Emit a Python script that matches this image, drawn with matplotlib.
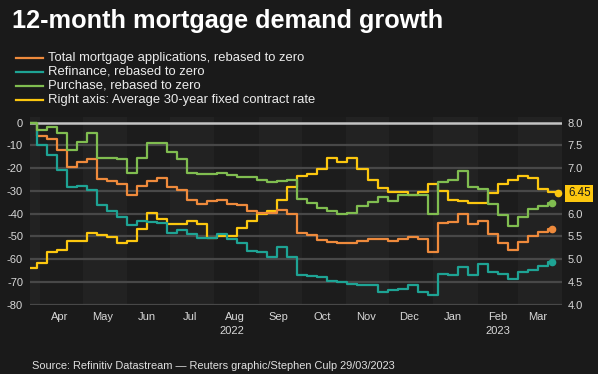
import matplotlib
matplotlib.use("Agg")
import matplotlib.pyplot as plt
from matplotlib.lines import Line2D
from matplotlib.transforms import blended_transform_factory
import pandas as pd

plt.rcParams['font.family'] = ['Liberation Sans', 'DejaVu Sans']

# weekly MBA survey values, rebased to zero at the start of the window
start = pd.Timestamp("2022-03-25")
weds = list(pd.date_range("2022-03-30", periods=52, freq="7D"))
end_mba = pd.Timestamp("2023-03-25")
end_rate = pd.Timestamp("2023-03-29")

total = [0, -6, -7, -12, -19.5, -17.3, -15.8, -24.6, -25.5, -27, -32, -27.8, -25.5,
         -24.2, -28.3, -29.7, -34.1, -35.6, -34.6, -34.1, -35.6, -36.3, -38.8, -39.5,
         -39.5, -38.2, -40, -48.5, -49.5, -51.5, -52.5, -52.8, -52.8, -52, -51, -51,
         -52, -51, -50.3, -51.3, -56.8, -44, -43.6, -40, -44.6, -43.4, -49, -52.8,
         -56, -52.4, -49.8, -48.2, -46.8]
refinance = [0, -10, -14.3, -20.9, -28.3, -28, -29.7, -36, -39, -41.4, -45.1, -43.3,
             -43.5, -43.9, -48.3, -47.3, -49, -50.5, -50.5, -49, -51.3, -52.7, -56.5,
             -56.8, -59, -54.6, -59.2, -67, -67.2, -68, -69.5, -70, -70.7, -71.4, -71.4,
             -74.5, -73.6, -72.9, -71.4, -74.4, -75.8, -66.3, -66.8, -63.4, -66.8, -62,
             -65.8, -66.3, -68.5, -65.6, -64.6, -63, -61.2]
purchase = [0, -3.2, -1.8, -4.7, -12, -8.3, -4.4, -15.6, -15.6, -16, -22, -15.6, -9,
            -9, -12.8, -15.9, -22, -22.4, -22.4, -22, -23, -23.8, -23.8, -25.3, -26,
            -25.8, -25.3, -33.5, -35.5, -37.5, -38.8, -40, -39.5, -36.8, -35, -32.5,
            -34.5, -31.8, -31.8, -31.8, -40, -26, -25.3, -21.4, -28.3, -29, -35.6,
            -40.7, -45.5, -41.4, -37.8, -36.6, -35.1]
rate = [4.81, 4.92, 5.16, 5.21, 5.39, 5.39, 5.57, 5.54, 5.49, 5.36, 5.40, 5.67, 6.02,
        5.88, 5.78, 5.78, 5.85, 5.77, 5.47, 5.51, 5.51, 5.68, 5.83, 6.00, 6.05, 6.29,
        6.58, 6.82, 6.88, 6.99, 7.23, 7.13, 7.22, 6.99, 6.74, 6.56, 6.48, 6.48, 6.42,
        6.48, 6.65, 6.49, 6.29, 6.27, 6.24, 6.24, 6.46, 6.66, 6.73, 6.83, 6.78, 6.55,
        6.48]
rate_last = 6.45

labels = ["Total mortgage applications, rebased to zero",
          "Refinance, rebased to zero",
          "Purchase, rebased to zero",
          "Right axis: Average 30-year fixed contract rate"]
months = ["Apr", "May", "Jun", "Jul", "Aug", "Sep", "Oct", "Nov", "Dec", "Jan", "Feb", "Mar"]
left_ticks = [0, -10, -20, -30, -40, -50, -60, -70, -80]
right_ticks = [4.0, 4.5, 5.0, 5.5, 6.0, 6.5, 7.0, 7.5, 8.0]

bg = "#1a1a1a"
band_dark = "#1c1c1c"
band_light = "#222222"
grid_col = "#484848"
txt = "#d8d8d8"
c_total = "#ee8a3c"
c_refi = "#1ea394"
c_purch = "#80bd50"
c_rate = "#fcc70f"

W, H = 598, 374
fig = plt.figure(figsize=(W / 100, H / 100), dpi=100, facecolor=bg)
ax2 = fig.add_axes([30 / W, (H - 304.7) / H, 532 / W, 187.7 / H])  # right axis, drawn behind
ax2.set_facecolor(band_dark)
ax2.yaxis.tick_right()
ax = fig.add_axes(ax2.get_position(), sharex=ax2)
ax.patch.set_visible(False)

x0 = pd.Timestamp("2022-03-25")
x1 = pd.Timestamp("2023-04-01")
ax2.set_xlim(x0, x1)
ax.set_ylim(-80, 2.5)
ax2.set_ylim(4.0, 8.0 + 2.5 / 20)

# alternating month bands
mstarts = list(pd.date_range("2022-03-01", "2023-04-01", freq="MS"))
for i in range(len(mstarts) - 1):
    if i % 2 == 0:
        ax2.axvspan(max(mstarts[i], x0), mstarts[i + 1], color=band_light, lw=0, zorder=0)

# grid lines (on the rate axis, same heights)
for t in right_ticks:
    if t == 8.0:
        ax2.axhline(t, color="#c4c4c4", lw=1.8, zorder=1)
    else:
        ax2.axhline(t, color=grid_col, lw=1.6, zorder=1)

xs_mba = [start] + weds + [end_mba]
xs_rate = [start] + weds + [end_rate]

ax2.plot(xs_rate, rate + [rate_last], drawstyle="steps-post", color=c_rate, lw=1.6, zorder=3)
ax2.plot(end_rate, rate_last, "o", color=c_rate, ms=4.5, clip_on=False, zorder=4)

for vals, col in [(total, c_total), (refinance, c_refi), (purchase, c_purch)]:
    ax.plot(xs_mba, vals + [vals[-1]], drawstyle="steps-post", color=col, lw=1.6, zorder=4)
    ax.plot(end_mba, vals[-1], "o", color=col, ms=4.5, zorder=5)

for spine in list(ax.spines.values()) + list(ax2.spines.values()):
    spine.set_visible(False)

ax.set_yticks(left_ticks)
ax.set_yticklabels([str(t) for t in left_ticks])
ax.tick_params(axis="y", length=0, pad=5, labelsize=8, colors=txt)
ax2.set_yticks(right_ticks)
# 6.5 sits under the value box
ax2.set_yticklabels(["" if t == 6.5 else "%.1f" % t for t in right_ticks])
ax2.tick_params(axis="y", length=0, pad=4, labelsize=8, colors=txt)

mids = pd.date_range("2022-04-01", periods=12, freq="MS") + pd.Timedelta(days=14)
ax.set_xticks(mids)
ax.set_xticklabels(months)
ax.tick_params(axis="x", length=0, pad=5, labelsize=8, colors=txt)
ax2.tick_params(axis="x", length=0, labelbottom=False)

tr = blended_transform_factory(ax.transData, fig.transFigure)
ax.text(pd.Timestamp("2022-08-13"), 1 - 331 / H, "2022", transform=tr, ha="center",
        va="center", fontsize=8, color=txt)
ax.text(pd.Timestamp("2023-02-15"), 1 - 331 / H, "2023", transform=tr, ha="center",
        va="center", fontsize=8, color=txt)

# value label for the rate
ax2.text(1.0 + 6 / 532, rate_last, "%.2f" % rate_last, transform=ax2.get_yaxis_transform(),
         ha="left", va="center", fontsize=8.3, color="#1a1a1a", zorder=6,
         bbox=dict(boxstyle="square,pad=0.22", fc=c_rate, ec="none"))

# title and legend
fig.text(12 / W, 1 - 21 / H, "12-month mortgage demand growth", fontsize=18.2,
         fontweight="bold", color="white", ha="left", va="center")
for i, (lab, col) in enumerate(zip(labels, [c_total, c_refi, c_purch, c_rate])):
    yy = 1 - (57.7 + i * 14) / H
    fig.add_artist(Line2D([16 / W, 43 / W], [yy, yy], color=col, lw=1.6))
    fig.text(48 / W, yy, lab, fontsize=9.4, color="#ececec", ha="left", va="center")

fig.text(32 / W, 1 - 366 / H, "Source: Refinitiv Datastream \u2014 Reuters graphic/Stephen Culp 29/03/2023",
         fontsize=7.9, color="#e0e0e0", ha="left", va="center")

fig.savefig("out.png", dpi=100, facecolor=bg)
